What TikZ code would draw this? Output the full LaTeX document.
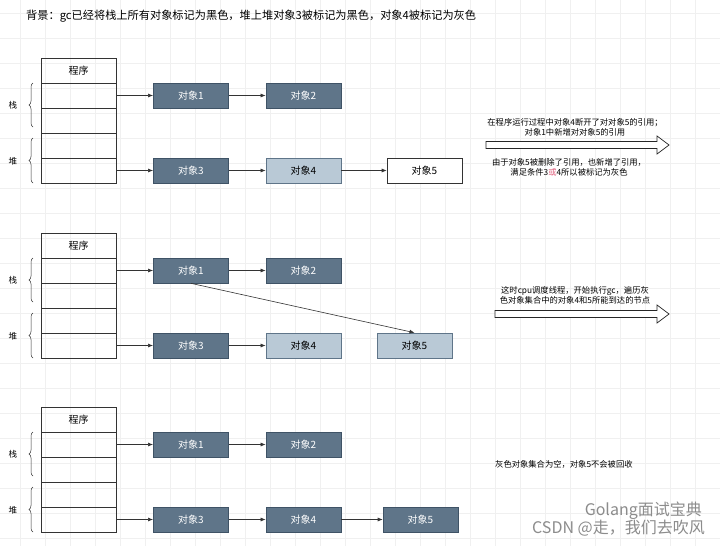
\documentclass[tikz,border=0pt]{standalone}
\usepackage{fontspec}
\setmainfont{Noto Sans CJK SC}
\usetikzlibrary{positioning,decorations.pathreplacing,arrows.meta}

\definecolor{objdark}{HTML}{5F7589}
\definecolor{objdarkline}{HTML}{3F5366}
\definecolor{objlight}{HTML}{B9C9D6}
\definecolor{objlightline}{HTML}{5F7589}
\definecolor{linkline}{HTML}{333333}
\definecolor{notered}{HTML}{E0607E}

\tikzset{
  gridline/.style={draw=black!6, line width=0.5pt},
  rowbox/.style={draw=black!80, line width=0.6pt, minimum width=75pt, minimum height=25pt,
    inner sep=0pt, outer sep=0pt, font=\fontsize{10}{12}\selectfont},
  darkobj/.style={draw=objdarkline, fill=objdark, text=white, line width=0.6pt,
    minimum width=75pt, minimum height=25pt, inner sep=0pt, font=\fontsize{10}{12}\selectfont},
  lightobj/.style={darkobj, draw=objlightline, fill=objlight, text=black},
  plainobj/.style={darkobj, draw=black!80, fill=white, text=black},
  link/.style={draw=linkline, line width=0.6pt, -{Latex[length=5pt,width=4pt]}},
  membrace/.style={draw=black!80, line width=0.5pt, decorate, decoration={brace, amplitude=4pt}},
  memlabel/.style={font=\fontsize{8.5}{10}\selectfont},
  note/.style={align=center, font=\fontsize{8.3}{10}\selectfont, inner sep=0pt},
  bigarrow/.style={draw=black!85, line width=0.7pt, fill=white},
  watermark/.style={text=black!45, font=\fontsize{16}{18}\selectfont, inner sep=0pt}
}

\begin{document}
\begin{tikzpicture}[x=1pt, y=-1pt]
  \useasboundingbox (0,0) rectangle (720,546);
  \fill[white] (0,0) rectangle (720,546);

  % faint background grid
  \foreach \gx in {20,45,...,720} \draw[gridline] (\gx,0) -- (\gx,546);
  \foreach \gy in {13,38,...,538} \draw[gridline] (0,\gy) -- (720,\gy);

  \node[anchor=west, inner sep=0pt, font=\fontsize{11.2}{13}\selectfont] (title) at (26,16)
    {背景：gc已经将栈上所有对象标记为黑色，堆上堆对象3被标记为黑色，对象4被标记为灰色};

  % the three snapshots share the program stack/heap part
  \foreach \i/\off/\four in {1/0/lightobj, 2/175/lightobj, 3/349/darkobj} {
    \begin{scope}[shift={(0,\off)}]
      \node[rowbox] (p\i-r1) at (78.5,70.5) {程序};
      \node[rowbox, below=0pt of p\i-r1] (p\i-r2) {};
      \node[rowbox, below=0pt of p\i-r2] (p\i-r3) {};
      \node[rowbox, below=0pt of p\i-r3] (p\i-r4) {};
      \node[rowbox, below=0pt of p\i-r4] (p\i-r5) {};

      \draw[membrace] (33,127) -- (33,83);
      \node[memlabel] (p\i-stack) at (13,105) {栈};
      \draw[membrace] (33,183) -- (33,138);
      \node[memlabel] (p\i-heap) at (13,161) {堆};

      \node[darkobj, right=37pt of p\i-r2] (p\i-o1) {对象1};
      \node[darkobj, right=37pt of p\i-o1] (p\i-o2) {对象2};
      \node[darkobj, right=37pt of p\i-r5] (p\i-o3) {对象3};
      \node[\four, right=37pt of p\i-o3] (p\i-o4) {对象4};

      \draw[link] (p\i-r2) -- (p\i-o1);
      \draw[link] (p\i-o1) -- (p\i-o2);
      \draw[link] (p\i-r5) -- (p\i-o3);
      \draw[link] (p\i-o3) -- (p\i-o4);
    \end{scope}
  }

  % snapshot 1
  \node[plainobj] (p1-o5) at (424.5,170.5) {对象5};
  \draw[link] (p1-o4) -- (p1-o5);

  \node[note] (note1a) at (575,127) {在程序运行过程中对象4断开了对对象5的引用；\\对象1中新增对对象5的引用};
  \draw[bigarrow] (486,141.5) -- (657,141.5) -- (657,136) -- (669,145)
    -- (657,154) -- (657,148.5) -- (486,148.5) -- cycle;
  \node[note] (note1b) at (569,167.5) {由于对象5被删除了引用，也新增了引用，\\满足条件3\textcolor{notered}{或}4所以被标记为灰色};

  % snapshot 2
  \node[lightobj] (p2-o5) at (414.5,345.5) {对象5};
  \draw[link] (p2-o1.south) -- (p2-o5.north);

  \node[note] (note2) at (575,295) {这时cpu调度线程，开始执行gc，遍历灰\\色对象集合中的对象4和5所能到达的节点};
  \draw[bigarrow] (495,310.5) -- (657,310.5) -- (657,305) -- (669,314)
    -- (657,323) -- (657,317.5) -- (495,317.5) -- cycle;

  % snapshot 3
  \node[darkobj] (p3-o5) at (420.5,519.5) {对象5};
  \draw[link] (p3-o4) -- (p3-o5);

  \node[note, anchor=west] (note3) at (495,464) {灰色对象集合为空，对象5不会被回收};

  \node[watermark, anchor=east] (wm1) at (702,511) {Golang面试宝典};
  \node[watermark, anchor=east] (wm2) at (705,528) {CSDN @走，我们去吹风};
\end{tikzpicture}
\end{document}
